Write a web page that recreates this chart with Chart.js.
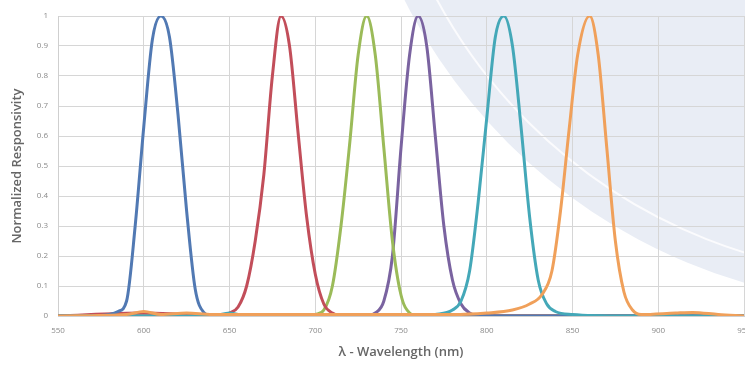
<!DOCTYPE html>
<html>
<head>
<meta charset="utf-8">
<script src="https://cdn.jsdelivr.net/npm/chart.js@4"></script>
<style>
  html, body { margin: 0; padding: 0; background: #fff; overflow: hidden; }
  #wrap { position: relative; width: 745px; height: 366px; overflow: hidden; }
  /* pale watermark disc behind the chart */
  #disc { position: absolute; left: 345px; top: -805px; width: 1110px; height: 1110px;
          border-radius: 50%; background: #e9edf5; }
  #ring { position: absolute; left: 373px; top: -777px; width: 1054px; height: 1054px;
          border-radius: 50%; border: 2px solid #fbfbfd; box-sizing: border-box; }
  canvas { position: absolute; left: 0; top: 0; }
</style>
</head>
<body>
<div id="wrap">
  <div id="disc"></div>
  <div id="ring"></div>
  <canvas id="chart" width="745" height="366"></canvas>
</div>
<script>
// wavelength (nm) and normalized responsivity
const blueNm   = [550, 575, 580, 585, 590, 595, 600, 605, 610, 615, 620, 625, 630, 635, 640, 950];
const blueVal  = [0, 0.002, 0.005, 0.015, 0.05, 0.3, 0.63, 0.92, 1.0, 0.93, 0.67, 0.35, 0.09, 0.012, 0, 0];

const redNm    = [550, 600, 625, 645, 650, 655, 660, 665, 670, 675, 680, 685, 690, 695, 700, 705, 710, 715, 950];
const redVal   = [0, 0.01, 0.005, 0.002, 0.01, 0.03, 0.1, 0.25, 0.47, 0.8, 1.0, 0.9, 0.61, 0.33, 0.14, 0.04, 0.01, 0, 0];

const greenNm  = [550, 695, 700, 705, 710, 715, 720, 725, 730, 735, 740, 745, 750, 755, 760, 950];
const greenVal = [0, 0, 0.005, 0.02, 0.1, 0.3, 0.57, 0.87, 1.0, 0.87, 0.56, 0.25, 0.07, 0.01, 0, 0];

const purpleNm  = [550, 730, 735, 740, 745, 750, 755, 760, 765, 770, 775, 780, 785, 790, 795, 950];
const purpleVal = [0, 0, 0.01, 0.05, 0.2, 0.56, 0.87, 1.0, 0.9, 0.6, 0.3, 0.12, 0.04, 0.01, 0, 0];

const tealNm   = [550, 640, 650, 660, 760, 770, 780, 785, 790, 795, 800, 805, 810, 815, 820, 825, 830, 835, 840, 850, 880, 950];
const tealVal  = [0, 0, 0.01, 0, 0, 0.005, 0.02, 0.05, 0.15, 0.38, 0.66, 0.93, 1.0, 0.9, 0.63, 0.33, 0.12, 0.04, 0.015, 0.005, 0, 0];

const orangeNm  = [550, 590, 600, 610, 625, 640, 700, 780, 800, 815, 825, 832, 838, 843, 848, 853, 860, 865, 870, 875, 880, 885, 890, 910, 920, 935, 950];
const orangeVal = [0, 0.005, 0.015, 0.005, 0.01, 0.005, 0.005, 0.005, 0.01, 0.02, 0.04, 0.07, 0.15, 0.35, 0.62, 0.87, 1.0, 0.87, 0.56, 0.25, 0.08, 0.02, 0.005, 0.01, 0.012, 0.005, 0];

const xTicks = [550, 600, 650, 700, 750, 800, 850, 900, 950];
const yTicks = [0, 0.1, 0.2, 0.3, 0.4, 0.5, 0.6, 0.7, 0.8, 0.9, 1];

function pts(nm, val) {
    return nm.map((x, i) => ({x: x, y: val[i]}));
}

function line(data, color) {
    return {
        data: data,
        borderColor: color,
        borderWidth: 3,
        pointRadius: 0,
        fill: false,
        tension: 0.4,
        cubicInterpolationMode: 'monotone'
    };
}

const ctx = document.getElementById('chart').getContext('2d');
new Chart(ctx, {
    type: 'line',
    data: {
        datasets: [
            line(pts(orangeNm, orangeVal), '#f0a05a'),
            line(pts(tealNm, tealVal), '#44a8b8'),
            line(pts(blueNm, blueVal), '#5179b3'),
            line(pts(redNm, redVal), '#c24e5a'),
            line(pts(greenNm, greenVal), '#9bbb59'),
            line(pts(purpleNm, purpleVal), '#7a63a0')
        ]
    },
    options: {
        responsive: false,
        animation: false,
        layout: { padding: { top: 16, right: 1, left: 0, bottom: 6 } },
        plugins: { legend: { display: false }, tooltip: { enabled: false } },
        scales: {
            x: {
                type: 'linear',
                min: 550,
                max: 950,
                afterBuildTicks: s => { s.ticks = xTicks.map(v => ({value: v})); },
                afterFit: s => { s.height = 44; s.paddingLeft = 0; s.paddingRight = 0; },
                grid: { color: '#d6d6d6', lineWidth: 1, drawTicks: false },
                border: { color: '#cfcfcf' },
                ticks: { color: '#8a8a8a', font: { family: 'Open Sans', size: 8 }, padding: 10, maxRotation: 0 },
                title: {
                    display: true,
                    text: 'λ - Wavelength (nm)',
                    color: '#666',
                    font: { family: 'Open Sans', size: 13, weight: '600' },
                    padding: { top: 0, bottom: 0 }
                }
            },
            y: {
                min: 0,
                max: 1,
                afterBuildTicks: s => { s.ticks = yTicks.map(v => ({value: v})); },
                afterFit: s => { s.width = 58; },
                grid: { color: '#d6d6d6', lineWidth: 1, drawTicks: false },
                border: { color: '#cfcfcf' },
                ticks: {
                    color: '#8a8a8a',
                    font: { family: 'Open Sans', size: 8 },
                    padding: 10,
                    callback: v => String(Number(v.toFixed(1)))
                },
                title: {
                    display: true,
                    text: 'Normalized Responsivity',
                    color: '#666',
                    font: { family: 'Open Sans', size: 13, weight: '600' },
                    padding: { top: 9, bottom: 0 }
                }
            }
        }
    }
});
</script>
</body>
</html>
